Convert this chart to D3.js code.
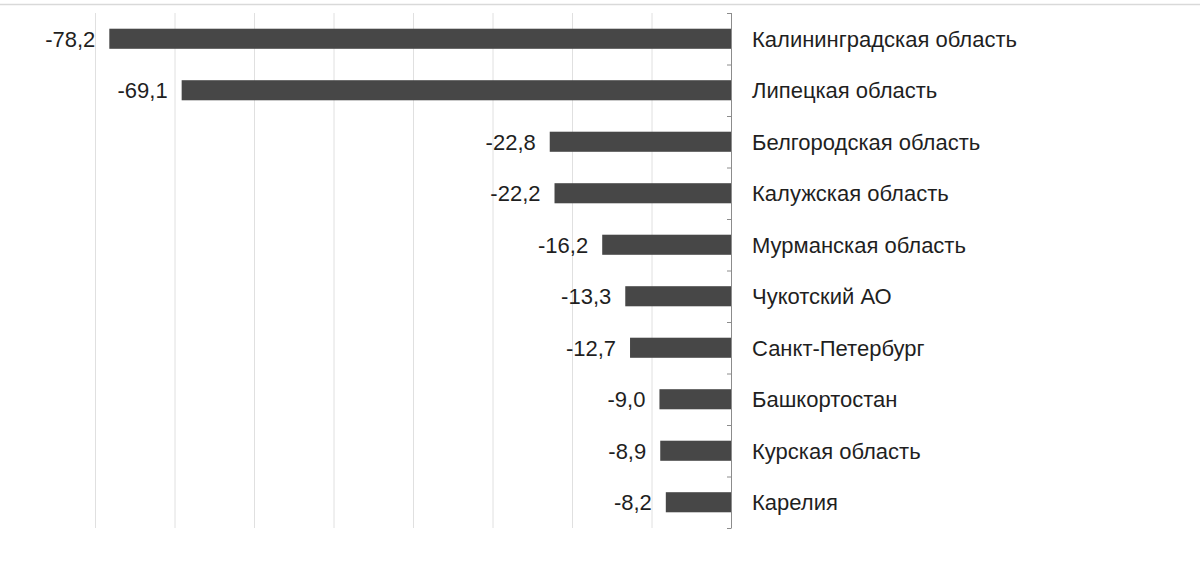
<!DOCTYPE html>
<html>
<head>
<meta charset="utf-8">
<script src="https://cdn.jsdelivr.net/npm/d3@7"></script>
<style>
  body { margin: 0; background: #fff; }
  svg { display: block; font-family: "Liberation Sans", Arial, sans-serif; }
</style>
</head>
<body>
<svg id="chart" width="1200" height="565"></svg>
<script>
// data
const regions = ["Калининградская область", "Липецкая область", "Белгородская область",
  "Калужская область", "Мурманская область", "Чукотский АО", "Санкт-Петербург",
  "Башкортостан", "Курская область", "Карелия"];
const values = [-78.2, -69.1, -22.8, -22.2, -16.2, -13.3, -12.7, -9.0, -8.9, -8.2];
const gridTicks = [-80, -70, -60, -50, -40, -30, -20, -10];

const svg = d3.select("#chart");
const width = 1200, height = 565;

// top border line
svg.append("line")
    .attr("x1", 0).attr("x2", width)
    .attr("y1", 4.5).attr("y2", 4.5)
    .attr("stroke", "#d9d9d9").attr("stroke-width", 1.5);

const x = d3.scaleLinear().domain([-80, 0]).range([95, 731]);
const y = d3.scaleBand().domain(regions).range([13, 528]).paddingInner(0.61).paddingOuter(0.305);

// vertical grid
svg.append("g")
    .selectAll("line")
    .data(gridTicks)
    .join("line")
    .attr("x1", d => x(d) + 0.5).attr("x2", d => x(d) + 0.5)
    .attr("y1", 13).attr("y2", 528)
    .attr("stroke", "#e0e0e0").attr("stroke-width", 1);

// bars
svg.append("g")
    .selectAll("rect")
    .data(values)
    .join("rect")
    .attr("x", d => x(d))
    .attr("y", (d, i) => y(regions[i]))
    .attr("width", d => x(0) - x(d))
    .attr("height", y.bandwidth())
    .attr("fill", "#474747");

// value labels
const fmt = v => v.toFixed(1).replace(".", ",");
svg.append("g")
    .selectAll("text")
    .data(values)
    .join("text")
    .attr("x", d => x(d) - 14)
    .attr("y", (d, i) => y(regions[i]) + y.bandwidth() / 2)
    .attr("dy", "0.36em")
    .attr("text-anchor", "end")
    .attr("font-size", 22)
    .attr("fill", "#1f1f1f")
    .text(fmt);

// axis at zero
const band = d3.scaleLinear().domain([0, regions.length]).range([13, 528]);
svg.append("line")
    .attr("x1", x(0) + 0.5).attr("x2", x(0) + 0.5)
    .attr("y1", 13).attr("y2", 528)
    .attr("stroke", "#8c8c8c").attr("stroke-width", 1);
svg.append("g")
    .selectAll("line")
    .data(d3.range(regions.length + 1))
    .join("line")
    .attr("x1", x(0) - 4).attr("x2", x(0) + 0.5)
    .attr("y1", d => band(d) + 0.5).attr("y2", d => band(d) + 0.5)
    .attr("stroke", "#8c8c8c").attr("stroke-width", 1);

// category labels
svg.append("g")
    .selectAll("text")
    .data(regions)
    .join("text")
    .attr("x", 752)
    .attr("y", d => y(d) + y.bandwidth() / 2)
    .attr("dy", "0.36em")
    .attr("font-size", 22)
    .attr("fill", "#1f1f1f")
    .text(d => d);
</script>
</body>
</html>
